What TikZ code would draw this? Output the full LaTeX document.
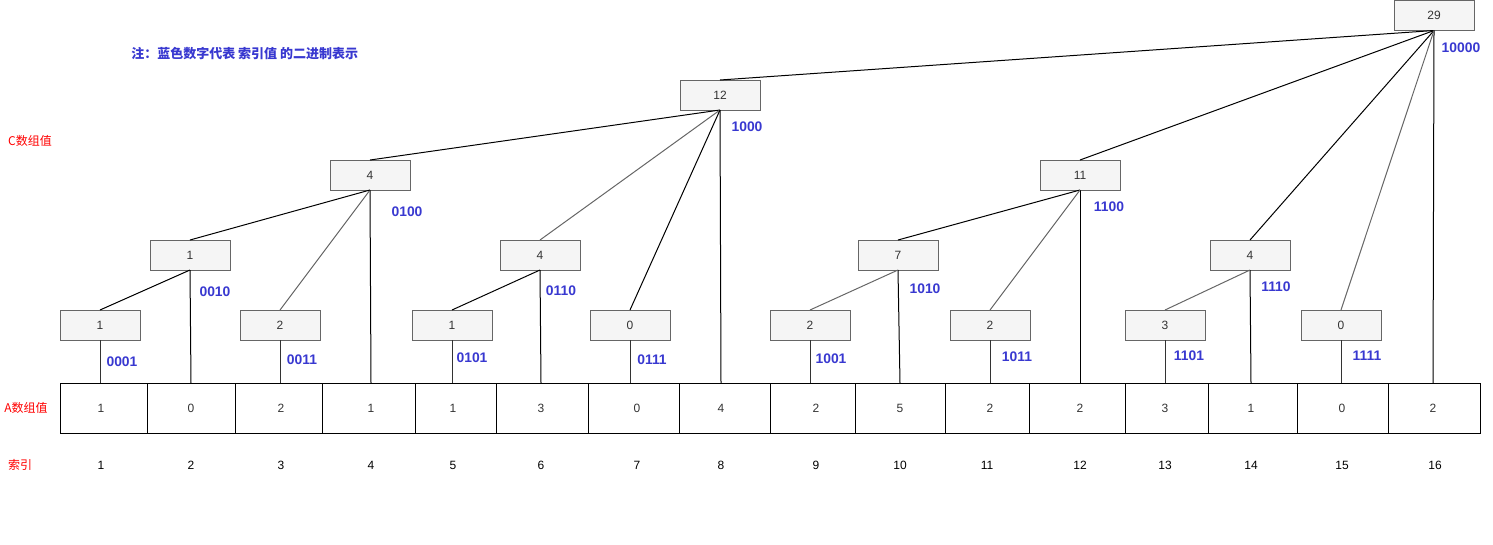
\documentclass[tikz,border=0pt]{standalone}
\usepackage{fontspec}
\setmainfont{Liberation Sans}
\newfontfamily\cjk{Noto Sans CJK SC}
\definecolor{boxline}{HTML}{666666}
\definecolor{boxfill}{HTML}{F5F5F5}
\definecolor{txt}{HTML}{333333}
\definecolor{binblue}{HTML}{3838D0}
\definecolor{edgegray}{HTML}{666666}
\begin{document}
\begin{tikzpicture}[x=0.75pt,y=-0.75pt,
  box/.style={draw=boxline, fill=boxfill, line width=0.75pt, minimum width=60pt, minimum height=22.5pt, inner sep=0pt, outer sep=0pt, font=\fontsize{9}{10}\selectfont, text=txt},
  cell/.style={draw=black, line width=0.75pt, minimum height=37.5pt, inner sep=0pt, outer sep=0pt},
  val/.style={font=\fontsize{9}{10}\selectfont, text=txt, inner sep=0pt},
  idx/.style={font=\fontsize{9}{10}\selectfont, text=black, inner sep=0pt},
  bin/.style={font=\fontsize{10.4}{12}\selectfont\bfseries, text=binblue, inner sep=0pt},
  lab/.style={font=\cjk\fontsize{9}{10}\selectfont, text=red, inner sep=0pt},
  note/.style={font=\cjk\bfseries\fontsize{9.75}{11}\selectfont, text=binblue, inner sep=0pt},
  blk/.style={draw=black, line width=0.75pt},
  gry/.style={draw=edgegray, line width=0.75pt},
  drop/.style={draw=txt, line width=0.75pt}]
\useasboundingbox (0,0) rectangle (1493,544);

% array cells
\foreach \l/\r [count=\i] in {60/147,147/235,235/322,322/415,415/496,496/588,588/679,679/770,770/855,855/945,945/1029,1029/1125,1125/1208,1208/1297,1297/1388,1388/1480}
  \node[cell, minimum width={(\r-\l)*0.75pt}] (c\i) at ({(\l+\r)/2},408) {};
% array values
\foreach \x/\v [count=\i] in {101/1,191/0,281/2,371/1,453/1,541/3,637/0,721/4,816/2,900/5,990/2,1080/2,1165/3,1251/1,1342/0,1433/2}
  \node[val] (v\i) at (\x,408) {\v};
% indices
\foreach \x [count=\i] in {101,191,281,371,453,541,637,721,816,900,987,1080,1165,1251,1342,1435}
  \node[idx] (i\i) at (\x,465) {\i};

% side labels
\node[lab] (labC) at (30,141) {C数组值};
\node[lab] (labA) at (26,408) {A数组值};
\node[lab] (labI) at (20,465) {索引};
\node[note, anchor=west] (note) at (131,54) {注：蓝色数字代表 索引值 的二进制表示};

% tree boxes
\node[box] (a1) at (100,325) {1};
\node[box] (a3) at (280,325) {2};
\node[box] (a5) at (452,325) {1};
\node[box] (a7) at (630,325) {0};
\node[box] (a9) at (810,325) {2};
\node[box] (a11) at (990,325) {2};
\node[box] (a13) at (1165,325) {3};
\node[box] (a15) at (1341,325) {0};
\node[box] (b2) at (190,255) {1};
\node[box] (b6) at (540,255) {4};
\node[box] (b10) at (898,255) {7};
\node[box] (b14) at (1250,255) {4};
\node[box] (d4) at (370,175) {4};
\node[box] (d12) at (1080,175) {11};
\node[box] (e8) at (720,95) {12};
\node[box] (f16) at (1434,15.5) {29};

% drops from odd boxes to array
\foreach \k in {1,3,5,7,9,11,13,15}
  \draw[drop] (a\k.south) -- (a\k.south |- c\k.north);

% long lines from array to parents
\draw[blk] (v2 |- c2.north) -- (b2.south);
\draw[blk] (v4 |- c4.north) -- (d4.south);
\draw[blk] (v6 |- c6.north) -- (b6.south);
\draw[blk] (v8 |- c8.north) -- (e8.south);
\draw[blk] (v10 |- c10.north) -- (b10.south);
\draw[blk] (v12 |- c12.north) -- (d12.south);
\draw[blk] (v14 |- c14.north) -- (b14.south);
\draw[blk] (v16 |- c16.north) -- (f16.south);

% tree edges
\draw[blk] (a1.north) -- (b2.south);
\draw[gry] (a3.north) -- (d4.south);
\draw[blk] (b2.north) -- (d4.south);
\draw[blk] (d4.north) -- (e8.south);
\draw[blk] (a5.north) -- (b6.south);
\draw[gry] (b6.north) -- (e8.south);
\draw[blk] (a7.north) -- (e8.south);
\draw[blk] (e8.north) -- (f16.south);
\draw[gry] (a9.north) -- (b10.south);
\draw[blk] (b10.north) -- (d12.south);
\draw[gry] (a11.north) -- (d12.south);
\draw[blk] (d12.north) -- (f16.south);
\draw[gry] (a13.north) -- (b14.south);
\draw[blk] (b14.north) -- (f16.south);
\draw[gry] (a15.north) -- (f16.south);

% binary labels
\node[bin] (n1) at (122,362) {0001};
\node[bin] (n2) at (215,292) {0010};
\node[bin] (n3) at (302,360) {0011};
\node[bin] (n4) at (407,212) {0100};
\node[bin] (n5) at (472,358) {0101};
\node[bin] (n6) at (561,291) {0110};
\node[bin] (n7) at (652,360) {0111};
\node[bin] (n8) at (747,127) {1000};
\node[bin] (n9) at (831,359) {1001};
\node[bin] (n10) at (925,289) {1010};
\node[bin] (n11) at (1017,357) {1011};
\node[bin] (n12) at (1109,207) {1100};
\node[bin] (n13) at (1189,356) {1101};
\node[bin] (n14) at (1276,287) {1110};
\node[bin] (n15) at (1367,356) {1111};
\node[bin] (n16) at (1461,48) {10000};
\end{tikzpicture}
\end{document}
